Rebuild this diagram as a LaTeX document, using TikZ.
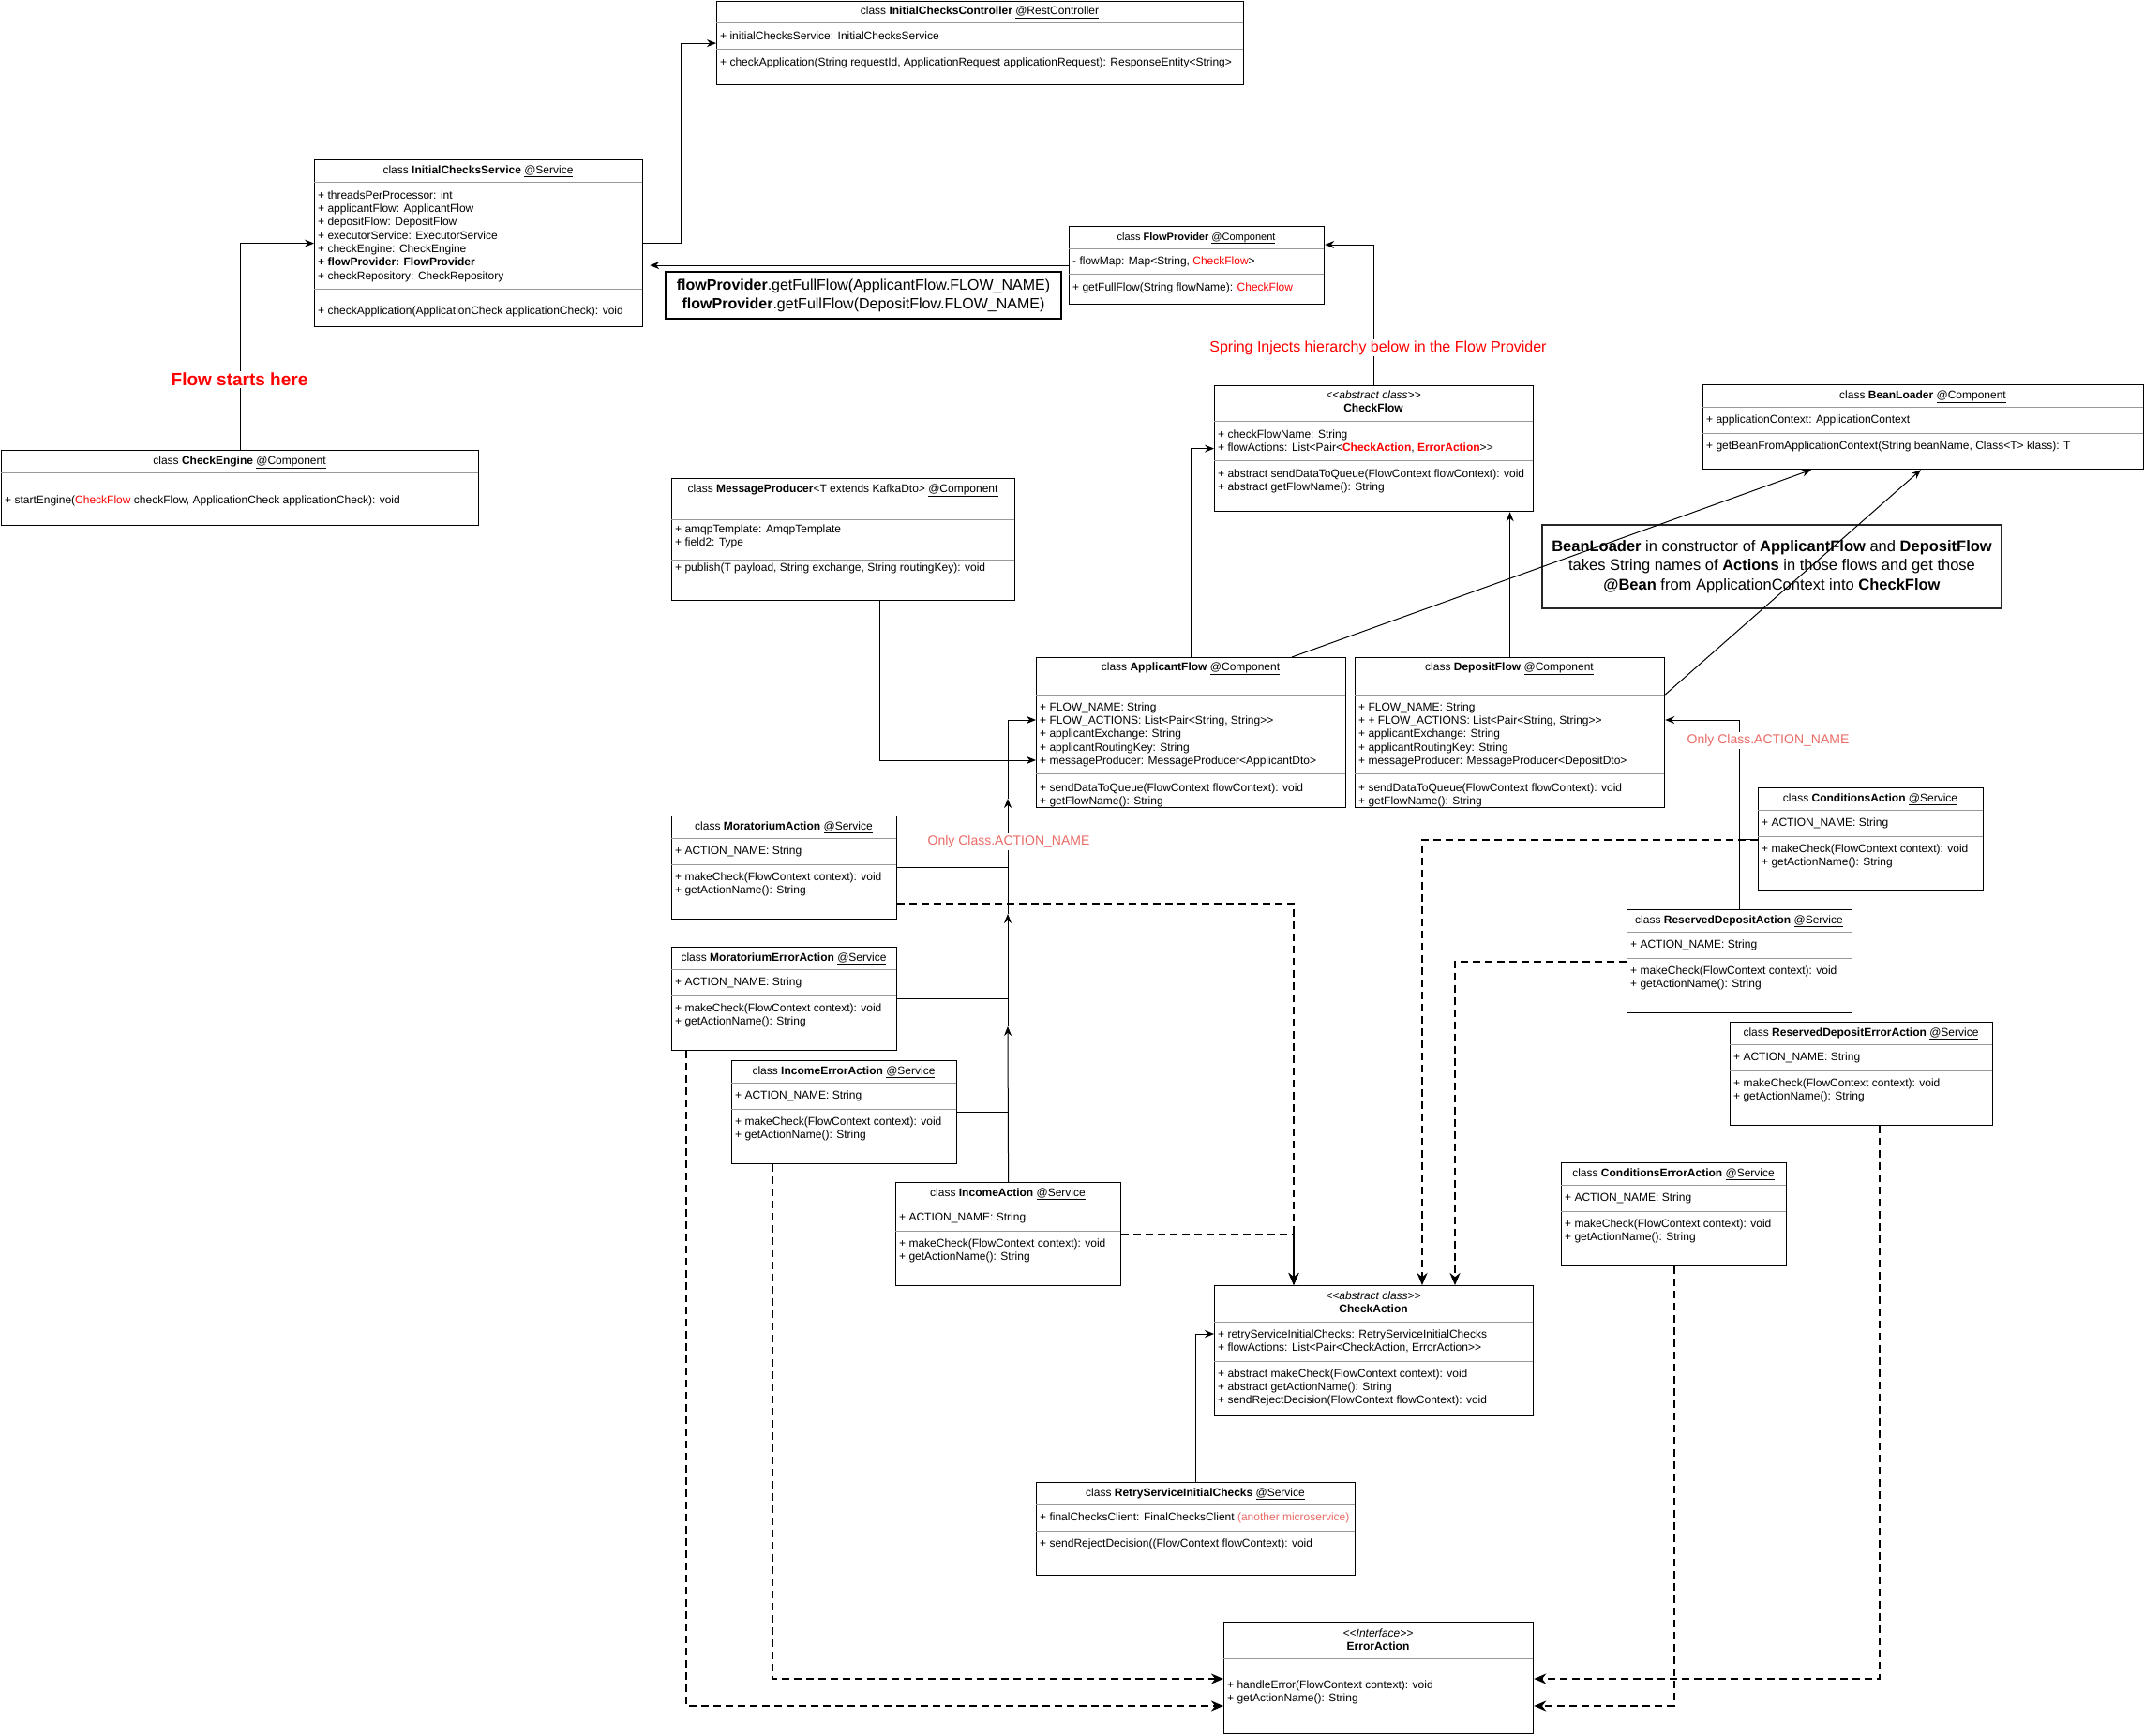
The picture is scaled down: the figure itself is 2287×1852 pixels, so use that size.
\documentclass[tikz,border=0pt]{standalone}
\usepackage{fontspec}
\setmainfont{Liberation Sans}
\usepackage{xcolor}
\usepackage{tikz}
\usetikzlibrary{arrows.meta,calc}
\definecolor{flowred}{RGB}{255,0,0}
\definecolor{notered}{RGB}{234,107,102}

\newcommand{\twolt}{<\kern0pt<}
\newcommand{\twogt}{>\kern0pt>}
% box with header / attribute / method dividers
\newcommand{\umlclass}[7]{%
  \node[classbox, minimum width=#4pt, minimum height=#5pt, anchor=north west] (#1) at (#2,#3) {};
  \ifnum#6>0 \draw[divider] (#2,#3+#6) -- ++(#4,0);\fi
  \ifnum#7>0 \draw[divider] (#2,#3+#7) -- ++(#4,0);\fi
}
\newcommand{\actionbox}[5]{%
  \umlclass{#1}{#2}{#3}{#4}{110}{24}{52}
  \node[head] (#1-h) at (#2+#4/2,#3+15) {class \textbf{#5} \underline{@Service}};
  \node[members] (#1-a) at (#2+4,#3+31) {\strut+ ACTION\_NAME: String};
  \node[members] (#1-m) at (#2+4,#3+59) {\strut+ makeCheck(FlowContext context): void\\+ getActionName(): String};
}

\tikzset{
  classbox/.style={draw, line width=1.2pt, fill=white, inner sep=0pt},
  divider/.style={draw=black!40, line width=1pt},
  head/.style={anchor=base, inner sep=0pt, font=\fontsize{12}{14.3}\selectfont},
  head2/.style={anchor=north, align=center, inner sep=0pt, font=\fontsize{12}{14.3}\selectfont},
  members/.style={anchor=north west, align=left, inner sep=0pt, font=\fontsize{12}{14.3}\selectfont},
  notebox/.style={draw, line width=1.5pt, fill=white, align=center, inner sep=0pt, font=\fontsize{16}{20}\selectfont},
  link/.style={line width=1pt, -{Stealth[length=10pt,width=8pt]}},
  branch/.style={line width=1pt},
  dlink/.style={line width=2.2pt, dash pattern=on 8pt off 5pt, -{Stealth[length=13pt,width=11pt]}},
  bigred/.style={text=flowred, fill=white, inner sep=2pt, font=\fontsize{19}{22}\selectfont\bfseries},
  redlbl/.style={text=flowred, fill=white, inner sep=2pt, font=\fontsize{16}{19}\selectfont},
  actlbl/.style={text=notered, fill=white, inner sep=2pt, font=\fontsize{14}{17}\selectfont}
}

\begin{document}
\begin{tikzpicture}[x=1pt, y=-1pt]
    \path[use as bounding box, fill=white] (0,0) rectangle (2287,1852);

    % Controller, service, engine
    \umlclass{ctl}{764}{1}{562}{89}{24}{52}
    \node[head] (ctl-h) at (1045,16) {class \textbf{InitialChecksController} \underline{@RestController}};
    \node[members] (ctl-a) at (768,32) {\strut+ initialChecksService: InitialChecksService};
    \node[members] (ctl-m) at (768,60) {\strut+ checkApplication(String requestId, ApplicationRequest applicationRequest): ResponseEntity<String>};

    \umlclass{ics}{335}{170}{350}{178}{24}{138}
    \node[head] (ics-h) at (510,185) {class \textbf{InitialChecksService} \underline{@Service}};
    \node[members] (ics-a) at (339,202) {\strut+ threadsPerProcessor: int\\+ applicantFlow: ApplicantFlow\\+ depositFlow: DepositFlow\\+ executorService: ExecutorService\\+ checkEngine: CheckEngine\\\textbf{+ flowProvider: FlowProvider}\\+ checkRepository: CheckRepository};
    \node[members] (ics-m) at (339,325) {\strut+ checkApplication(ApplicationCheck applicationCheck): void};

    \umlclass{eng}{1}{480}{509}{80}{24}{0}
    \node[head] (eng-h) at (255.5,495) {class \textbf{CheckEngine} \underline{@Component}};
    \node[members] (eng-m) at (5,527) {\strut+ startEngine(\textcolor{flowred}{CheckFlow} checkFlow, ApplicationCheck applicationCheck): void};

    % Flow provider and flows
    \umlclass{fp}{1140}{241}{272}{83}{24}{51}
    \node[head, font=\fontsize{11}{13}\selectfont] (fp-h) at (1276,256) {class \textbf{FlowProvider} \underline{@Component}};
    \node[members] (fp-a) at (1144,272) {\strut- flowMap: Map<String, \textcolor{flowred}{CheckFlow}>};
    \node[members] (fp-m) at (1144,300) {\strut+ getFullFlow(String flowName): \textcolor{flowred}{CheckFlow}};

    \node[notebox, minimum width=422pt, minimum height=50pt] (fpnote) at (921,315) {\textbf{flowProvider}.getFullFlow(ApplicantFlow.FLOW\_NAME)\\\textbf{flowProvider}.getFullFlow(DepositFlow.FLOW\_NAME)};

    \umlclass{cf}{1295}{411}{340}{134}{38}{80}
    \node[head2] (cf-h) at (1465,415) {\strut\textit{\twolt abstract class\twogt}\\\textbf{CheckFlow}};
    \node[members] (cf-a) at (1299,457) {\strut+ checkFlowName: String\\+ flowActions: List<Pair<\textcolor{flowred}{\textbf{CheckAction}}, \textcolor{flowred}{\textbf{ErrorAction}}\twogt};
    \node[members] (cf-m) at (1299,499) {\strut+ abstract sendDataToQueue(FlowContext flowContext): void\\+ abstract getFlowName(): String};

    \umlclass{bl}{1816}{410}{470}{90}{24}{52}
    \node[head] (bl-h) at (2051,425) {class \textbf{BeanLoader} \underline{@Component}};
    \node[members] (bl-a) at (1820,441) {\strut+ applicationContext: ApplicationContext};
    \node[members] (bl-m) at (1820,469) {\strut+ getBeanFromApplicationContext(String beanName, Class<T> klass): T};

    \node[notebox, draw=black!85, line width=2.5pt, minimum width=490pt, minimum height=89pt, font=\fontsize{16.5}{20.5}\selectfont] (blnote) at (1890,604.5) {\textbf{BeanLoader} in constructor of \textbf{ApplicantFlow} and \textbf{DepositFlow}\\takes String names of \textbf{Actions} in those flows and get those\\\textbf{@Bean} from ApplicationContext into \textbf{CheckFlow}};

    \umlclass{mp}{716}{510}{366}{130}{44}{87}
    \node[head] (mp-h) at (899,525) {class \textbf{MessageProducer}<T extends KafkaDto> \underline{@Component}};
    \node[members] (mp-a) at (720,558) {\strut+ amqpTemplate: AmqpTemplate\\+ field2: Type};
    \node[members] (mp-m) at (720,599) {\strut+ publish(T payload, String exchange, String routingKey): void};

    \umlclass{af}{1105}{701}{330}{160}{40}{124}
    \node[head] (af-h) at (1270,715) {class \textbf{ApplicantFlow} \underline{@Component}};
    \node[members] (af-a) at (1109,748) {\strut+ FLOW\_NAME: String\\+ FLOW\_ACTIONS: List<Pair<String, String\twogt\\+ applicantExchange: String\\+ applicantRoutingKey: String\\+ messageProducer: MessageProducer<ApplicantDto>};
    \node[members] (af-m) at (1109,834) {\strut+ sendDataToQueue(FlowContext flowContext): void\\+ getFlowName(): String};

    \umlclass{dpf}{1445}{701}{330}{160}{40}{124}
    \node[head] (dpf-h) at (1610,715) {class \textbf{DepositFlow} \underline{@Component}};
    \node[members] (dpf-a) at (1449,748) {\strut+ FLOW\_NAME: String\\+ + FLOW\_ACTIONS: List<Pair<String, String\twogt\\+ applicantExchange: String\\+ applicantRoutingKey: String\\+ messageProducer: MessageProducer<DepositDto>};
    \node[members] (dpf-m) at (1449,834) {\strut+ sendDataToQueue(FlowContext flowContext): void\\+ getFlowName(): String};

    % Actions
    \actionbox{ma}{716}{870}{240}{MoratoriumAction}
    \actionbox{mea}{716}{1010}{240}{MoratoriumErrorAction}
    \actionbox{iea}{780}{1131}{240}{IncomeErrorAction}
    \actionbox{ia}{955}{1261}{240}{IncomeAction}
    \actionbox{ca}{1875}{840}{240}{ConditionsAction}
    \actionbox{rda}{1735}{970}{240}{ReservedDepositAction}
    \actionbox{rdea}{1845}{1090}{280}{ReservedDepositErrorAction}
    \actionbox{cea}{1665}{1240}{240}{ConditionsErrorAction}

    \umlclass{cka}{1295}{1371}{340}{139}{39}{81}
    \node[head2] (cka-h) at (1465,1376) {\strut\textit{\twolt abstract class\twogt}\\\textbf{CheckAction}};
    \node[members] (cka-a) at (1299,1417) {\strut+ retryServiceInitialChecks: RetryServiceInitialChecks\\+ flowActions: List<Pair<CheckAction, ErrorAction\twogt};
    \node[members] (cka-m) at (1299,1459) {\strut+ abstract makeCheck(FlowContext context): void\\+ abstract getActionName(): String\\+ sendRejectDecision(FlowContext flowContext): void};

    \umlclass{rsc}{1105}{1581}{340}{99}{24}{52}
    \node[head] (rsc-h) at (1275,1596) {class \textbf{RetryServiceInitialChecks} \underline{@Service}};
    \node[members] (rsc-a) at (1109,1612) {\strut+ finalChecksClient: FinalChecksClient \textcolor{notered}{(another microservice)}};
    \node[members] (rsc-m) at (1109,1640) {\strut+ sendRejectDecision((FlowContext flowContext): void};

    \umlclass{ea}{1305}{1730}{330}{119}{39}{0}
    \node[head2] (ea-h) at (1470,1736) {\strut\textit{\twolt Interface\twogt}\\\textbf{ErrorAction}};
    \node[members] (ea-m) at (1309,1791) {\strut+ handleError(FlowContext context): void\\+ getActionName(): String};

    % Solid connectors
    \draw[link] (eng.north) |- (ics.west);
    \draw[link] (ics.east) -- ++(40,0) |- (ctl.west);
    \draw[link, shorten >=7pt] (fp.west) -- (fp.west -| ics.east);
    \draw[link] (cf.north) |- ($(fp.north east)+(0,20)$);
    \draw[link] (af.north) |- (cf.west);
    \draw[link] (dpf.north) -- (dpf.north |- cf.south);
    \draw[link] ($(af.north west)+(273,0)$) -- ($(bl.south west)+(116,0)$);
    \draw[link] ($(dpf.north east)+(0,40)$) -- ($(bl.south west)+(233,0)$);
    \draw[link] ($(mp.south west)+(222,0)$) |- ($(af.north west)+(0,110)$);

    \coordinate (lt1) at (1075,1095);
    \coordinate (lt2) at (1075,975);
    \coordinate (lt3) at (1075,852);
    \draw[link] (ia.north) -- (lt1);
    \draw[link] (lt1) -- (lt2);
    \draw[link] (lt2) -- (lt3);
    \draw[link] (lt3) |- ($(af.north west)+(0,67)$);
    \draw[branch] (ma.east) -- (ma.east -| ia.north);
    \draw[branch] (mea.east) -- (mea.east -| ia.north);
    \draw[branch] (iea.east) -- (iea.east -| ia.north);

    \draw[link] (rda.north) |- ($(dpf.north east)+(0,67)$);
    \draw[branch] (ca.west) -- (ca.west -| rda.north);
    \draw[link] (rsc.north) |- ($(cka.north west)+(0,52)$);

    % Dashed connectors
    \draw[dlink] ($(ma.north east)+(0,94)$) -| ($(cka.north west)+(85,0)$);
    \draw[dlink] (ia.east) -| ($(cka.north west)+(85,0)$);
    \draw[dlink] (ca.west) -| ($(cka.north west)+(222,0)$);
    \draw[dlink] (rda.west) -| ($(cka.north west)+(257,0)$);
    \draw[dlink] ($(mea.south west)+(16,0)$) |- ($(ea.north west)+(0,90)$);
    \draw[dlink] ($(iea.south west)+(44,0)$) |- ($(ea.north west)+(0,61)$);
    \draw[dlink] ($(rdea.south west)+(160,0)$) |- ($(ea.north east)+(0,61)$);
    \draw[dlink] (cea.south) |- ($(ea.north east)+(0,90)$);

    % Labels
    \node[bigred] (startlbl) at (255.5,405) {Flow starts here};
    \node[redlbl] (springlbl) at (1470,371) {Spring Injects hierarchy below in the Flow Provider};
    \node[actlbl] (onlyl) at (1076,898) {Only Class.ACTION\_NAME};
    \node[actlbl] (onlyr) at (1886,790) {Only Class.ACTION\_NAME};

\end{tikzpicture}
\end{document}
